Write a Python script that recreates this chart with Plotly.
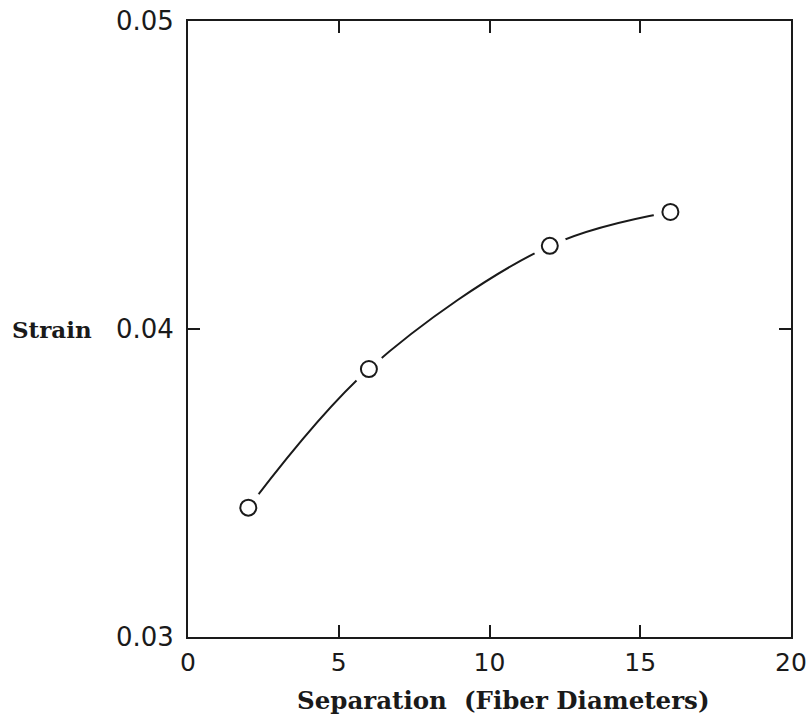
import plotly.graph_objects as go

separation = [2, 6, 12, 16]
strain = [0.0342, 0.0387, 0.0427, 0.0438]

x_ticks = [0, 5, 10, 15, 20]
y_ticks = [0.03, 0.04, 0.05]
y_tick_labels = ["0.03", "0.04", "0.05"]

ink = "#1a1a1a"

fig = go.Figure()

# smooth curve
fig.add_trace(go.Scatter(
    x=separation, y=strain, mode="lines",
    line=dict(color=ink, width=2, shape="spline", smoothing=1.0),
    hoverinfo="skip", showlegend=False,
))
# white mask to create gaps around markers
fig.add_trace(go.Scatter(
    x=separation, y=strain, mode="markers",
    marker=dict(symbol="circle", size=34, color="white", line=dict(width=0)),
    hoverinfo="skip", showlegend=False,
))
# open circles
fig.add_trace(go.Scatter(
    x=separation, y=strain, mode="markers",
    marker=dict(symbol="circle", size=16, color="white", line=dict(color=ink, width=2)),
    showlegend=False,
))

fig.update_layout(
    width=811, height=724,
    margin=dict(l=188, r=20, t=21, b=87),
    paper_bgcolor="white", plot_bgcolor="white",
    font=dict(family="DejaVu Sans", color=ink),
    xaxis=dict(
        range=[0, 20], tickvals=x_ticks, ticks="inside", ticklen=12, tickwidth=2,
        tickcolor=ink, showline=True, linecolor=ink, linewidth=2, mirror="ticks",
        showgrid=False, zeroline=False, automargin=False, ticklabelstandoff=2,
        ticklabeloverflow="allow",
        tickfont=dict(family="DejaVu Sans", size=25, color=ink),
    ),
    yaxis=dict(
        range=[0.03, 0.05], tickvals=y_ticks, ticktext=y_tick_labels,
        ticks="inside", ticklen=12, tickwidth=2,
        tickcolor=ink, showline=True, linecolor=ink, linewidth=2, mirror="ticks",
        showgrid=False, zeroline=False, automargin=False, ticklabelstandoff=7,
        ticklabeloverflow="allow",
        tickfont=dict(family="DejaVu Sans", size=26, color=ink),
    ),
    annotations=[
        dict(
            text="Strain", xref="paper", yref="y", x=(10 - 188) / 603, y=0.04,
            xanchor="left", yanchor="middle", showarrow=False,
            font=dict(family="DejaVu Serif", size=23, color=ink, weight="bold"),
        ),
        dict(
            text="Separation\u00a0\u00a0(Fiber Diameters)", xref="paper", yref="paper",
            x=(504 - 188) / 603, y=-(700 - 637) / 616,
            xanchor="center", yanchor="middle", showarrow=False,
            font=dict(family="DejaVu Serif", size=24.5, color=ink, weight="bold"),
        ),
    ],
)

fig.write_html(
    "out.html",
    config={"displayModeBar": False},
    post_script="document.body.style.margin='0';document.body.style.overflow='hidden';",
)
